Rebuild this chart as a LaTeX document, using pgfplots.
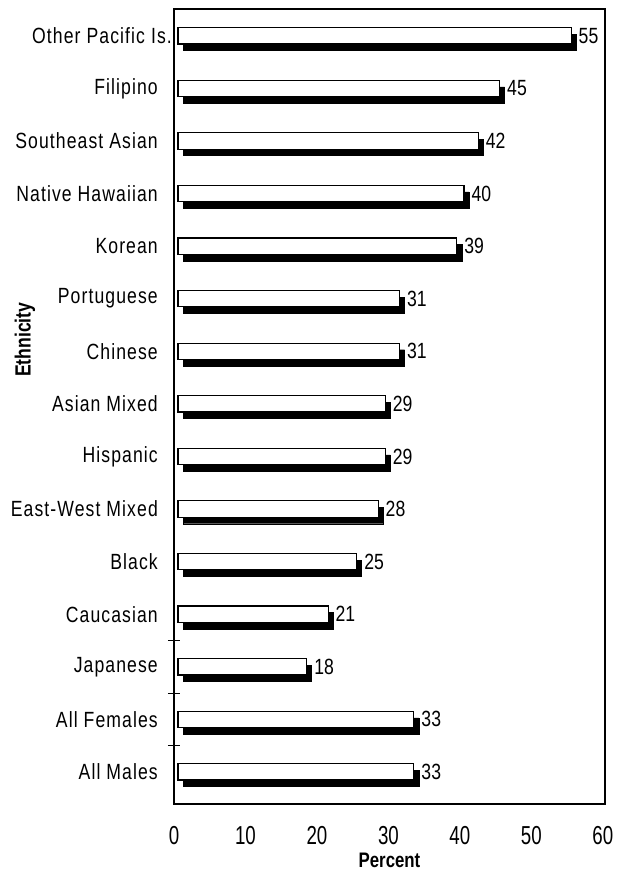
\documentclass[border=0pt]{standalone}
\usepackage{pgfplots}
\usepackage{pgfplotstable}
\pgfplotsset{compat=1.18}
\usepackage{fontspec}
\setmainfont{Liberation Sans}
\newfontfamily\narrow[FakeStretch=0.8]{Liberation Sans}
\newfontfamily\tall[FakeStretch=0.72]{Liberation Sans}
\newfontfamily\catfont[FakeStretch=0.8,LetterSpace=5]{Liberation Sans}

% pos 0 = All Males (bottom) ... 14 = Other Pacific Is. (top)
\pgfplotstableread{
pos value
0  33
1  33
2  18
3  21
4  25
5  28
6  29
7  29
8  31
9  31
10 39
11 40
12 42
13 45
14 55
}\ethnic

\begin{document}
\begin{tikzpicture}
\useasboundingbox (0,0) rectangle (617bp,877bp);
\begin{axis}[
    at={(174bp,73bp)}, anchor=south west,
    scale only axis, width=431bp, height=795bp,
    xbar, bar width=0.31,
    xmin=0, xmax=60.3,
    ymin=-0.61, ymax=14.51,
    xtick={0,10,...,60},
    ytick={0,...,14},
    yticklabels={All Males,All Females,Japanese,Caucasian,Black,East-West Mixed,Hispanic,Asian Mixed,Chinese,Portuguese,Korean,Native Hawaiian,Southeast Asian,Filipino,{Other Pacific Is.\hspace*{-14bp}}},
    major tick length=0pt,
    xtick pos=bottom, ytick pos=left,
    extra y ticks={0.5,1.5,2.5},
    extra y tick labels={},
    extra y tick style={major tick length=12bp, tick align=center, tick style={line width=1bp, black}},
    axis line style={line width=1.3bp},
    /pgf/number format/assume math mode=true,
    xticklabel style={font=\tall\fontsize{26bp}{26bp}\selectfont, anchor=north, inner sep=0pt, yshift=-22bp},
    yticklabel style={font=\catfont\fontsize{22bp}{22bp}\selectfont, anchor=east, inner sep=0pt, xshift=-16bp},
    xlabel={Percent},
    ylabel={Ethnicity},
    xlabel style={at={(axis description cs:0.5,-0.0704)}, anchor=center, font=\narrow\bfseries\fontsize{21bp}{21bp}\selectfont},
    ylabel style={at={(axis description cs:-0.346,0.584)}, anchor=center, font=\narrow\bfseries\fontsize{22bp}{22bp}\selectfont},
]
% shadow
\addplot[xbar, fill=black, draw=black, bar shift=-0.125, xshift=9bp] table[x=value, y=pos] {\ethnic};
% front face
\addplot[xbar, fill=white, draw=black, line width=1.2bp, bar shift=0, xshift=4bp,
    nodes near coords,
    every node near coord/.style={anchor=west, inner sep=0pt, xshift=7bp, black, font=\narrow\fontsize{22bp}{22bp}\selectfont}]
    table[x=value, y=pos] {\ethnic};
\end{axis}
\end{tikzpicture}
\end{document}
